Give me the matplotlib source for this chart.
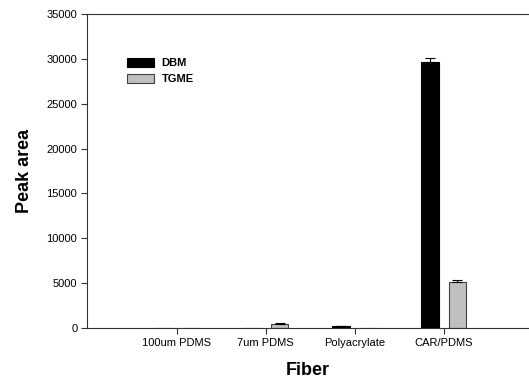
import matplotlib
matplotlib.use("Agg")
import matplotlib.pyplot as plt
import numpy as np

categories = ["100um PDMS", "7um PDMS", "Polyacrylate", "CAR/PDMS"]
dbm = [0, 0, 200, 29650]
dbm_err = [0, 0, 40, 500]
tgme = [0, 400, 0, 5080]
tgme_err = [0, 110, 0, 220]
yticks = [0, 5000, 10000, 15000, 20000, 25000, 30000, 35000]

plt.rcParams['font.family'] = ['Liberation Sans', 'DejaVu Sans']

fig = plt.figure(figsize=(5.29, 3.85), dpi=100)
ax = fig.add_axes([87/529, 57/385, (529-87)/529, 314/385])

x = np.arange(len(categories))
w = 0.2
off = 0.155
ax.bar(x - off, dbm, w, color="black", edgecolor="black", linewidth=0.8, label="DBM", zorder=2)
ax.bar(x + off, tgme, w, color="#c0c0c0", edgecolor="#404040", linewidth=0.8, label="TGME", zorder=2)
for xi, v, e in zip(x - off, dbm, dbm_err):
    if v > 0:
        ax.errorbar(xi, v, yerr=[[0], [e]], fmt="none", ecolor="black", elinewidth=0.8, capsize=3.6, capthick=0.8, zorder=3)
for xi, v, e in zip(x + off, tgme, tgme_err):
    if v > 0:
        ax.errorbar(xi, v, yerr=[[0], [e]], fmt="none", ecolor="black", elinewidth=0.8, capsize=3.6, capthick=0.8, zorder=3)

ax.set_xlim(-1.01, 3.96)
ax.set_ylim(0, 35000)
ax.set_xticks(x)
ax.set_xticklabels(categories, fontsize=8)
ax.set_yticks(yticks)
ax.set_yticklabels([str(t) for t in yticks], fontsize=8)
ax.tick_params(direction="out", length=4, width=0.8, color="#333333", pad=3)
ax.spines["right"].set_visible(False)
for s in ["left", "top", "bottom"]:
    ax.spines[s].set_linewidth(0.8)
    ax.spines[s].set_color("#333333")

ax.set_ylabel("Peak area", fontsize=13, fontweight="bold", labelpad=10)
ax.set_xlabel("Fiber", fontsize=13, fontweight="bold", labelpad=10)

leg = ax.legend(loc="upper left", bbox_to_anchor=(0.0905, 0.86), frameon=False,
                prop={"weight": "bold", "size": 8}, handlelength=2.4, handleheight=0.85,
                labelspacing=0.5, handletextpad=0.7, borderaxespad=0, borderpad=0)

fig.savefig("out.png", dpi=100)
